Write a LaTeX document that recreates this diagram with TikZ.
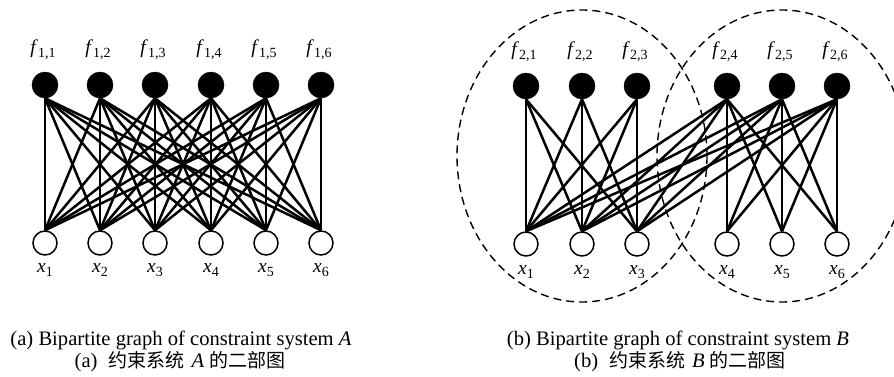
\documentclass[tikz,border=0pt]{standalone}
\usepackage{fontspec}
\setmainfont{Liberation Serif}
\newfontfamily\cjk{Noto Sans CJK SC}
\newcommand\varsub[2]{\textit{#1}\kern0.3pt\raisebox{-4pt}{\fontsize{14}{14}\selectfont #2}}
\newcommand\cjktext[1]{{\cjk\fontsize{19}{21}\selectfont #1}}
\begin{document}
\begin{tikzpicture}[x=1pt,y=-1pt,
  fnode/.style={circle,fill=black,draw=black,line width=0.5pt,minimum size=26pt,inner sep=0pt},
  xnode/.style={circle,fill=white,draw=black,line width=1.5pt,minimum size=24pt,inner sep=0pt},
  lab/.style={font=\fontsize{19.5}{21}\selectfont,inner sep=0pt,anchor=base},
  captext/.style={font=\fontsize{20.6}{22}\selectfont,inner sep=0pt,anchor=base},
  edgeline/.style={line width=2.5pt},
  grp/.style={line width=1.4pt,dash pattern=on 8pt off 5pt}]
\useasboundingbox (0,0) rectangle (894,376);
% ---------- graph A ----------
\foreach \i/\x in {1/45,2/100,3/155,4/211,5/266,6/321}{
  \node[fnode] (a\i) at (\x,85) {};
  \node[xnode] (ax\i) at (\x,243) {};
  \node[lab] (afl\i) at (\x-2,53) {\varsub{f}{1,\i}};
  \node[lab] (axl\i) at (\x,272) {\varsub{x}{\i}};
}
\foreach \i in {1,...,6}{
  \foreach \j in {1,...,6}{
    \draw[edgeline] (a\i.south) -- (ax\j.north);
  }
}
% ---------- graph B ----------
\draw[grp] (582,156) ellipse [x radius=125, y radius=146];
\draw[grp] (782,156) ellipse [x radius=125, y radius=146];
\foreach \i/\x in {1/526,2/582,3/637,4/727,5/782,6/837}{
  \node[fnode] (b\i) at (\x,86) {};
  \node[xnode] (bx\i) at (\x,244) {};
  \node[lab] (bfl\i) at (\x-2,55) {\varsub{f}{2,\i}};
  \node[lab] (bxl\i) at (\x,274) {\varsub{x}{\i}};
}
\foreach \i in {1,2,3}{
  \foreach \j in {1,2,3}{
    \draw[edgeline] (b\i.south) -- (bx\j.north);
  }
}
\foreach \i in {4,5,6}{
  \foreach \j in {1,...,6}{
    \draw[edgeline] (b\i.south) -- (bx\j.north);
  }
}
% ---------- captions ----------
\node[captext] (capa1) at (181,345) {(a) Bipartite graph of constraint system \textit{A}};
\node[captext] (capa2) at (180,367) {(a)\hspace{11pt}\cjktext{约束系统}\hspace{7pt}\textit{A}\hspace{5pt}\cjktext{的二部图}};
\node[captext] (capb1) at (678,345) {(b) Bipartite graph of constraint system \textit{B}};
\node[captext] (capb2) at (680,367) {(b)\hspace{11pt}\cjktext{约束系统}\hspace{7pt}\textit{B}\hspace{5pt}\cjktext{的二部图}};
\end{tikzpicture}
\end{document}
